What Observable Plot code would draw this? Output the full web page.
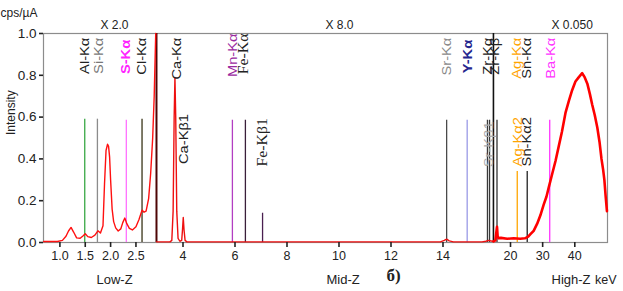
<!DOCTYPE html>
<html><head><meta charset="utf-8">
<script src="https://cdn.jsdelivr.net/npm/d3@7"></script>
<script src="https://cdn.jsdelivr.net/npm/@observablehq/plot@0.6"></script>
<style>body{margin:0;background:#fff}</style>
</head><body><div id="chart"></div>
<script>
// ---- spectrum data (energy keV, intensity) per segment ----
const lowEnergy = [0.68,0.95,1.05,1.12,1.17,1.22,1.27,1.33,1.40,1.46,1.50,1.55,1.62,1.69,1.75,1.80,1.85,1.88,1.91,1.94,1.96,1.98,2.00,2.03,2.06,2.10,2.15,2.20,2.24,2.28,2.32,2.37,2.43,2.50,2.56,2.62,2.66,2.70,2.75,2.79,2.83,2.86,2.89];
const lowIntensity = [0.005,0.005,0.01,0.03,0.055,0.072,0.05,0.022,0.02,0.032,0.042,0.028,0.024,0.035,0.056,0.045,0.08,0.28,0.44,0.47,0.46,0.41,0.3,0.16,0.1,0.07,0.055,0.065,0.095,0.117,0.09,0.068,0.06,0.075,0.11,0.155,0.145,0.15,0.21,0.33,0.5,0.7,1.0];
const midEnergy = [2.98,3.5,3.57,3.62,3.66,3.69,3.72,3.76,3.81,3.88,3.95,3.98,4.01,4.04,4.08,4.15,6.0,7.0,10,13.9,14.05,14.14,14.24,14.4,15.5,15.65,15.75,15.94];
const midIntensity = [0.003,0.003,0.01,0.15,0.6,0.79,0.6,0.15,0.02,0.006,0.01,0.06,0.12,0.06,0.01,0.003,0.003,0.003,0.003,0.003,0.01,0.016,0.008,0.003,0.003,0.006,0.01,0.005];
const highEnergy = [14.71,15.3,15.6,15.8,16.0,16.3,17,19,21,23,24.5,25.5,26.2,27.2,28.3,29.3,30.3,31.2,32.0,33.0,34.0,35.0,36.0,37.1,38.2,39.2,40.2,41.2,42.3,43.1,43.9,44.7,45.4,46.2,47.0,47.7,48.3,48.8,49.2,49.6,50.0];
const highIntensity = [0.005,0.01,0.05,0.075,0.03,0.02,0.022,0.018,0.02,0.018,0.02,0.028,0.04,0.056,0.09,0.13,0.18,0.22,0.27,0.33,0.39,0.46,0.53,0.62,0.68,0.73,0.77,0.79,0.81,0.79,0.76,0.71,0.66,0.61,0.55,0.48,0.4,0.35,0.3,0.22,0.15];

// ---- element marker lines ----
const lineNames = ["Al-Kα","Si-Kα","S-Kα","Cl-Kα","Mn-Kα","Fe-Kα","Fe-Kβ1","Sr-Kα","Y-Kα","Sr-Kβ1","Zr-Kα","Zr-Kβ","Ag-Kα","Sn-Kα","Ba-Kα"];
const lineSegment = ["low","low","low","low","mid","mid","mid","mid","mid","mid","mid","high","high","high","high"];
const lineEnergy = [1.49,1.74,2.31,2.62,5.90,6.40,7.06,14.14,14.93,15.71,15.79,15.8,22.1,25.2,32.2];
const lineHeight = [0.59,0.59,0.585,0.59,0.585,0.585,0.14,0.585,0.585,0.585,0.585,0.585,0.34,0.34,0.585];

// ---- element labels ----
const labelText = ["Al-Kα","Si-Kα","S-Kα","Cl-Kα","Ca-Kα","Ca-Kβ1","Mn-Kα","Fe-Kα","Fe-Kβ1","Sr-Kα","Y-Kα","Zr-Kα","Zr-Kβ","Sr-Kβ1","Ag-Kα","Sn-Kα","Ba-Kα","Ag-Kα2","Sn-Kα2"];
const labelSegment = ["low","low","low","low","mid","mid","mid","mid","mid","mid","mid","mid","mid","mid","high","high","high","high","high"];
const labelEnergy = [1.49,1.76,2.31,2.61,3.75,4.04,5.92,6.34,7.06,14.14,14.96,15.71,16.0,15.75,22.0,25.1,32.4,22.2,25.1];
const labelTop = [0.98,0.98,0.97,0.98,0.98,0.615,1.0,1.0,0.595,0.98,0.97,0.98,0.98,0.58,0.98,0.98,0.98,0.6,0.6];

// ---- axis ticks ----
const tickSegment = ["low","low","low","low","mid","mid","mid","mid","mid","mid","high","high","high"];
const tickEnergy = [1.0,1.5,2.0,2.5,4,6,8,10,12,14,20,30,40];
const tickLabel = ["1.0","1.5","2.0","2.5","4","6","8","10","12","14","20","30","40"];
const yTicks = [0,0.2,0.4,0.6,0.8,1.0];

// ---- segment (broken axis) definition: energy -> common position ----
const segments = {
  low:  {e0: 1,  v0: 16.4,  k: 50.7},
  mid:  {e0: 4,  v0: 139.5, k: 26.0},
  high: {e0: 20, v0: 467,   k: 3.215}
};
const pos = (seg, e) => segments[seg].v0 + (e - segments[seg].e0) * segments[seg].k;
const segBounds = [["low", 2.905], ["mid", 15.94]];

// ---- styles ----
const lineColor = {"Al-Kα":"#3aa845","Si-Kα":"#8c8c8c","S-Kα":"#ff70ff","Cl-Kα":"#3a3418","Mn-Kα":"#b23ec2","Fe-Kα":"#3a1f3a","Fe-Kβ1":"#4a2050","Sr-Kα":"#4a4a4a","Y-Kα":"#9a9ae6","Sr-Kβ1":"#3a3a3a","Zr-Kα":"#3a3a3a","Zr-Kβ":"#333","Ag-Kα":"#ffa500","Sn-Kα":"#222","Ba-Kα":"#ff33ff"};
const labelColor = {"Al-Kα":"#222","Si-Kα":"#777","S-Kα":"#ff22ff","Cl-Kα":"#222","Ca-Kα":"#222","Ca-Kβ1":"#222","Mn-Kα":"#9a2aa0","Fe-Kα":"#222","Fe-Kβ1":"#222","Sr-Kα":"#8a8a8a","Y-Kα":"#26268e","Zr-Kα":"#222","Zr-Kβ":"#222","Sr-Kβ1":"#aaa","Ag-Kα":"#ffa500","Sn-Kα":"#222","Ba-Kα":"#ff33ff","Ag-Kα2":"#ffa500","Sn-Kα2":"#222"};
const boldLabels = new Set(["S-Kα","Y-Kα"]);
const serifLabels = new Set(["Fe-Kα","Fe-Kβ1"]);

// ---- build tables ----
const spec = (E, I, seg) => E.map((e, i) => ({seg, e, i: I[i], v: pos(seg, e)}));
const lowData = spec(lowEnergy, lowIntensity, "low");
const midData = spec(midEnergy, midIntensity, "mid");
const highData = spec(highEnergy, highIntensity, "high");
const lines = lineNames.map((n, j) => ({name: n, v: pos(lineSegment[j], lineEnergy[j]), top: lineHeight[j], color: lineColor[n]}));
const labels = labelText.map((t, j) => ({text: t, v: pos(labelSegment[j], labelEnergy[j]), top: labelTop[j], color: labelColor[t]}));
const ticks = tickEnergy.map((e, j) => pos(tickSegment[j], e));
const tickMap = new Map(ticks.map((v, j) => [v, tickLabel[j]]));
const bounds = segBounds.map(([s, e]) => pos(s, e));

const sans = "'Liberation Sans', Arial, sans-serif";
const serif = "'Liberation Serif', 'Times New Roman', serif";

const chart = Plot.plot({
  width: 623, height: 291,
  marginLeft: 43, marginRight: 16, marginTop: 33, marginBottom: 49,
  x: {domain: [0, 564]},
  y: {domain: [0, 1]},
  color: {type: "identity"},
  style: {fontFamily: sans, fontSize: "12px", background: "#fff", color: "#222"},
  marks: [
    Plot.frame({stroke: "#8c8c8c", strokeWidth: 1.2}),
    Plot.ruleX(lines, {x: "v", y1: 0, y2: "top", stroke: "color", strokeWidth: 1.3}),
    Plot.ruleX([bounds[0]], {y1: 0, y2: 1, stroke: "#4d0505", strokeWidth: 2}),
    Plot.ruleX([bounds[1]], {y1: 0, y2: 1, stroke: "#111", strokeWidth: 1.6}),
    Plot.line(lowData, {x: "v", y: "i", stroke: "#ff1010", strokeWidth: 1.4}),
    Plot.line(midData, {x: "v", y: "i", stroke: "#ee1010", strokeWidth: 1.4}),
    Plot.line(highData, {x: "v", y: "i", stroke: "#ff0000", strokeWidth: 2.6}),
    Plot.text(labels.filter(d => !boldLabels.has(d.text) && !serifLabels.has(d.text)), {x: "v", y: "top", text: "text", fill: "color", rotate: -90, textAnchor: "end", fontSize: 13}),
    Plot.text(labels.filter(d => boldLabels.has(d.text)), {x: "v", y: "top", text: "text", fill: "color", rotate: -90, textAnchor: "end", fontSize: 13, fontWeight: "bold"}),
    Plot.text(labels.filter(d => serifLabels.has(d.text)), {x: "v", y: "top", text: "text", fill: "color", rotate: -90, textAnchor: "end", fontSize: 14, fontFamily: serif}),
    Plot.axisY({ticks: yTicks, tickFormat: d => d.toFixed(1), tickSize: 4, tickPadding: 3, fontSize: 13.5, color: "#222", strokeWidth: 1.6, label: null}),
    Plot.axisX(ticks, {tickFormat: d => tickMap.get(d), tickSize: 5, tickPadding: 4, fontSize: 12.5, color: "#222", strokeWidth: 1.6, label: null}),
    Plot.text(["cps/µA"], {frameAnchor: "top-left", dx: -43, dy: -25, textAnchor: "start", fontSize: 12}),
    Plot.text(["Intensity"], {frameAnchor: "left", dx: -32, dy: -3, rotate: -90, fontSize: 12}),
    Plot.text(["X 2.0"], {frameAnchor: "top-left", dx: 57, dy: -13, fontSize: 12}),
    Plot.text(["X 8.0"], {frameAnchor: "top-left", dx: 282, dy: -13, fontSize: 12}),
    Plot.text(["X 0.050"], {frameAnchor: "top-left", dx: 508, dy: -13, fontSize: 12}),
    Plot.text(["Low-Z"], {frameAnchor: "bottom-left", dx: 53, dy: 41, fontSize: 13}),
    Plot.text(["Mid-Z"], {frameAnchor: "bottom-left", dx: 283, dy: 41, fontSize: 13}),
    Plot.text(["б)"], {frameAnchor: "bottom-left", dx: 343, dy: 38, fontSize: 17, fontWeight: "bold", fontFamily: serif}),
    Plot.text(["High-Z"], {frameAnchor: "bottom-left", dx: 508, dy: 41, fontSize: 13}),
    Plot.text(["keV"], {frameAnchor: "bottom-right", dx: 9, dy: 41, textAnchor: "end", fontSize: 12.5})
  ]
});
document.getElementById("chart").appendChild(chart);
// the reference's rotated element labels are drawn elongated along their length
const labelSet = new Set(labelText);
d3.select(chart).selectAll("text").filter(function () {
  const t = this.getAttribute("transform") || "";
  return labelSet.has(this.textContent) && t.includes("rotate(-90)");
}).attr("transform", function () { return this.getAttribute("transform") + " scale(1.13,1)"; });
</script>
</body></html>
